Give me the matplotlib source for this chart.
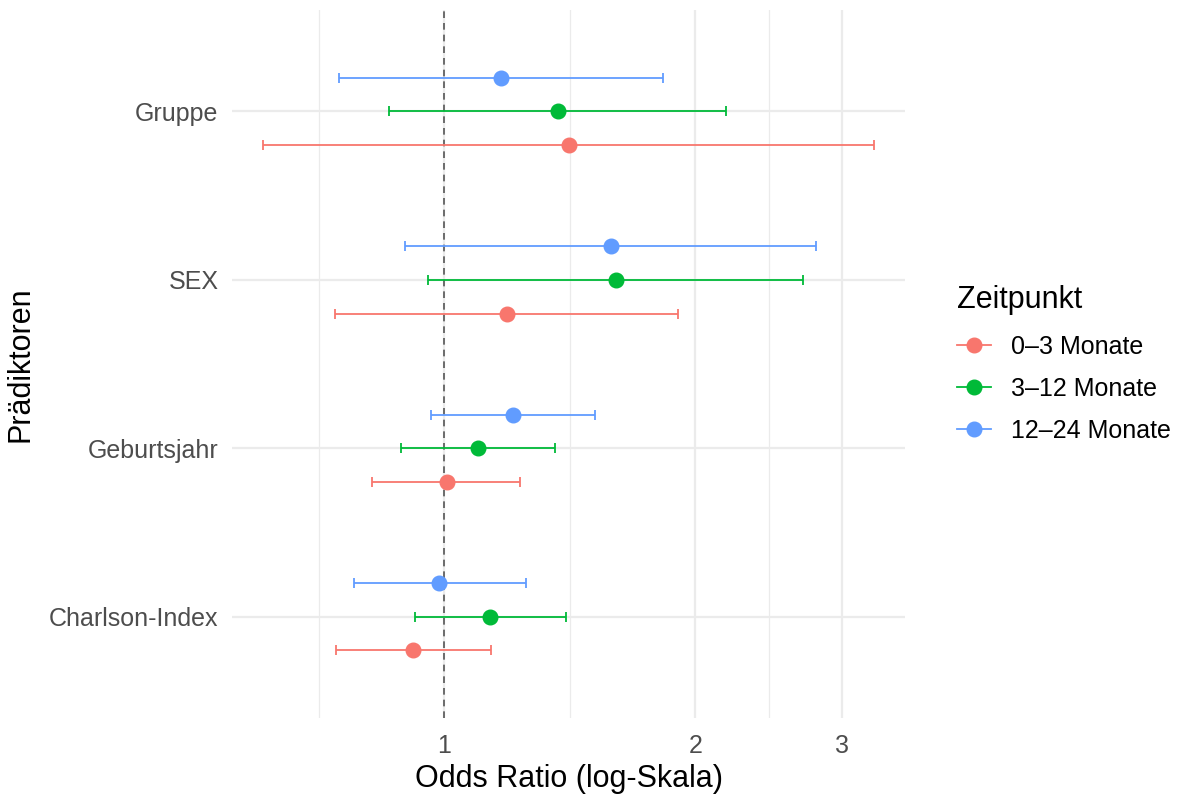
import numpy as np
import matplotlib.pyplot as plt
from matplotlib.ticker import FixedLocator, NullFormatter
from matplotlib.lines import Line2D

plt.rcParams['font.family'] = ['Liberation Sans', 'DejaVu Sans']

# predictors from bottom to top
predictors = ['Charlson-Index', 'Geburtsjahr', 'SEX', 'Gruppe']
zeitpunkte = ['0\u20133 Monate', '3\u201312 Monate', '12\u201324 Monate']
colors = ['#F8766D', '#00BA38', '#619CFF']

# odds ratios and CI per Zeitpunkt (order follows predictors)
or_0_3 = [0.918, 1.006, 1.189, 1.410]
lo_0_3 = [0.741, 0.818, 0.739, 0.606]
hi_0_3 = [1.138, 1.233, 1.904, 3.280]

or_3_12 = [1.135, 1.098, 1.605, 1.368]
lo_3_12 = [0.921, 0.888, 0.957, 0.857]
hi_3_12 = [1.399, 1.357, 2.692, 2.178]

or_12_24 = [0.986, 1.209, 1.583, 1.170]
lo_12_24 = [0.779, 0.965, 0.898, 0.747]
hi_12_24 = [1.253, 1.515, 2.790, 1.831]

est = [or_0_3, or_3_12, or_12_24]
low = [lo_0_3, lo_3_12, lo_12_24]
high = [hi_0_3, hi_3_12, hi_12_24]

fig = plt.figure(figsize=(11.8, 7.94), dpi=100)
ax = fig.add_axes([0.197, 0.096, 0.57, 0.891])

ypos = np.arange(1, len(predictors) + 1)
offsets = [-0.2, 0.0, 0.2]

for i in range(3):
    e = np.array(est[i])
    l = np.array(low[i])
    h = np.array(high[i])
    ax.errorbar(e, ypos + offsets[i], xerr=[e - l, h - e], fmt='o',
                color=colors[i], ecolor=colors[i], elinewidth=1.3,
                capsize=3.8, capthick=1.3, markersize=10.5, zorder=3)

ax.axvline(1, color='#555555', linestyle=(0, (4, 3)), linewidth=1.2, zorder=2)

ax.set_xscale('log')
lo_all = np.log10(min(min(x) for x in low))
hi_all = np.log10(max(max(x) for x in high))
pad = 0.05 * (hi_all - lo_all)
ax.set_xlim(10 ** (lo_all - pad), 10 ** (hi_all + pad))
ax.set_ylim(0.4, 4.6)

ax.xaxis.set_major_locator(FixedLocator([1, 2, 3]))
ax.xaxis.set_minor_locator(FixedLocator([1 / np.sqrt(2), np.sqrt(2), np.sqrt(6)]))
ax.xaxis.set_minor_formatter(NullFormatter())
ax.set_xticklabels(['1', '2', '3'])
ax.set_yticks(ypos)
ax.set_yticklabels(predictors)

ax.grid(which='major', color='#EBEBEB', linewidth=1.6, zorder=0)
ax.grid(which='minor', axis='x', color='#EBEBEB', linewidth=0.9, zorder=0)
ax.set_axisbelow(True)
for s in ax.spines.values():
    s.set_visible(False)
ax.tick_params(which='both', length=0, labelsize=18, labelcolor='#4D4D4D')
ax.tick_params(axis='y', pad=10)
ax.tick_params(axis='x', pad=12)

ax.set_xlabel('Odds Ratio (log-Skala)', fontsize=22, labelpad=4)
ax.set_ylabel('Prädiktoren', fontsize=22, labelpad=10)

handles = [Line2D([0], [0], color=c, marker='o', markersize=10.5, linewidth=1.3)
           for c in colors]
leg = ax.legend(handles, zeitpunkte, title='Zeitpunkt', loc='center left',
                bbox_to_anchor=(1.063, 0.5), frameon=False, fontsize=18,
                title_fontsize=22, handlelength=1.35, handletextpad=0.8,
                labelspacing=0.72, borderaxespad=0)
leg._legend_box.align = 'left'
leg._legend_box.sep = 14

fig.savefig('out.png', dpi=100)
